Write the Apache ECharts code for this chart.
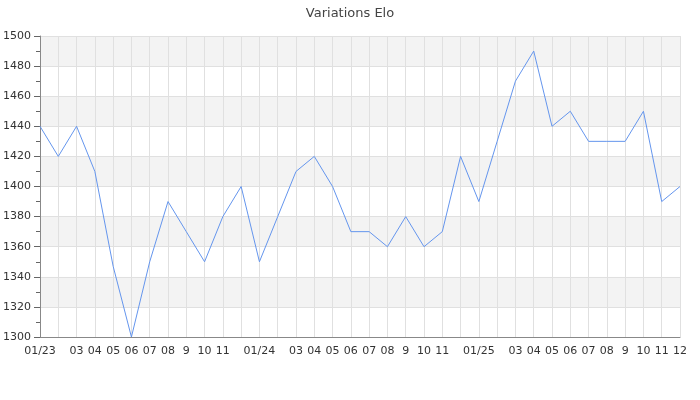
<!DOCTYPE html>
<html>
<head>
<meta charset="utf-8">
<script src="https://cdn.jsdelivr.net/npm/echarts@6/dist/echarts.min.js"></script>
<style>
  html, body { margin: 0; padding: 0; background: #fff; }
  #chart { width: 700px; height: 400px; }
</style>
</head>
<body>
<div id="chart"></div>
<script>
// one point per month, Jan 2023 .. Dec 2025
const months = [
  '01/23', '', '03', '04', '05', '06', '07', '08', '9', '10', '11', '',
  '01/24', '', '03', '04', '05', '06', '07', '08', '9', '10', '11', '',
  '01/25', '', '03', '04', '05', '06', '07', '08', '9', '10', '11', '12'
];
const elo = [
  1440, 1420, 1440, 1410, 1347, 1300, 1350, 1390, 1370, 1350, 1380, 1400,
  1350, 1380, 1410, 1420, 1400, 1370, 1370, 1360, 1380, 1360, 1370, 1420,
  1390, 1430, 1470, 1490, 1440, 1450, 1430, 1430, 1430, 1450, 1390, 1400
];

const chart = echarts.init(document.getElementById('chart'));
const font = 'DejaVu Sans';

chart.setOption({
  animation: false,
  title: {
    text: 'Variations Elo',
    left: 'center',
    top: 2,
    textStyle: { fontFamily: font, fontSize: 13, fontWeight: 'normal', color: '#444' }
  },
  grid: { left: 40, right: 20, top: 36, bottom: 63 },
  xAxis: {
    type: 'category',
    boundaryGap: false,
    data: months,
    axisLine: { lineStyle: { color: '#888' } },
    axisTick: { show: false },
    axisLabel: { interval: 0, color: '#333', fontFamily: font, fontSize: 11, margin: 9 },
    splitLine: { show: true, lineStyle: { color: '#e0e0e0' } }
  },
  yAxis: {
    type: 'value',
    min: 1300,
    max: 1500,
    interval: 20,
    axisLine: { show: true, lineStyle: { color: '#888' } },
    axisTick: { show: true, inside: false, length: 6, lineStyle: { color: '#666', width: 1 } },
    minorTick: { show: true, splitNumber: 2, length: 4, lineStyle: { color: '#666', width: 1 } },
    axisLabel: {
      show: true,
      color: '#333', fontFamily: font, fontSize: 11, margin: 9,
      formatter: v => String(v)
    },
    splitLine: { show: true, lineStyle: { color: '#e0e0e0' } },
    splitArea: { show: true, areaStyle: { color: ['#ffffff', '#f3f3f3'] } }
  },
  series: [{
    type: 'line',
    data: elo,
    showSymbol: false,
    lineStyle: { width: 1, color: '#6495ed' },
    itemStyle: { color: '#6495ed' }
  }]
});
</script>
</body>
</html>
